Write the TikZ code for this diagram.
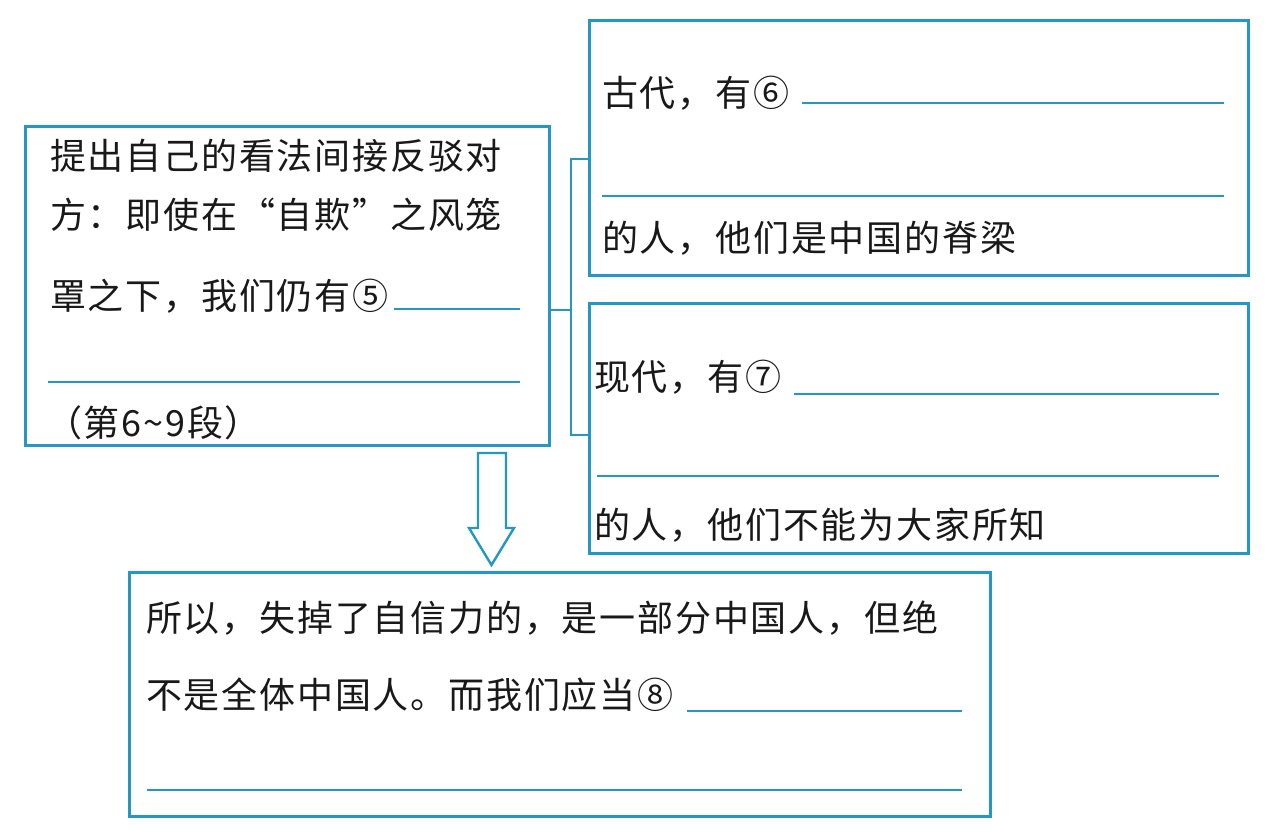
\documentclass[tikz,border=0pt]{standalone}
\usepackage{fontspec}
\newfontfamily\cjk{Noto Sans CJK SC}[LetterSpace=5]
\definecolor{lineblue}{RGB}{35,152,196}
\tikzset{
  box/.style={draw=lineblue, line width=2.6pt, rectangle, inner sep=0pt, anchor=north west},
  blank/.style={draw=lineblue, line width=2.4pt},
  conn/.style={draw=lineblue, line width=2.6pt},
  txt/.style={inner sep=0pt, anchor=base west, font=\cjk\fontsize{36}{40}\selectfont, text=black!90},
}
\begin{document}
\begin{tikzpicture}[x=1pt,y=-1pt]
\useasboundingbox (0,0) rectangle (1270,839);
\fill[white] (0,0) rectangle (1270,839);
% boxes
\node[box, minimum width=524pt, minimum height=319pt] (L) at (24,125) {};
\node[box, minimum width=659pt, minimum height=255pt] (A) at (588,19) {};
\node[box, minimum width=659pt, minimum height=250pt] (B) at (588,302) {};
\node[box, minimum width=861pt, minimum height=244pt] (C) at (128,571) {};
% left box text
\node[txt] (t1) at (50,169) {提出自己的看法间接反驳对};
\node[txt] (t2) at (50,228) {方：即使在“自欺”之风笼};
\node[txt] (t3) at (50,309) {罩之下，我们仍有⑤};
\draw[blank] (394,309) -- (520,309);
\draw[blank] (48,382) -- (520,382);
\node[txt] (t4) at (46,436) {（第6\char"007E 9段）};
% top right box
\node[txt] (t5) at (602,106) {古代，有⑥};
\draw[blank] (802,103) -- (1224,103);
\draw[blank] (602,196) -- (1224,196);
\node[txt] (t6) at (602,251) {的人，他们是中国的脊梁};
% second right box
\node[txt] (t7) at (594,390) {现代，有⑦};
\draw[blank] (794,394) -- (1219,394);
\draw[blank] (597,476) -- (1219,476);
\node[txt] (t8) at (594,538) {的人，他们不能为大家所知};
% bottom box
\node[txt] (t9) at (146,631) {所以，失掉了自信力的，是一部分中国人，但绝};
\node[txt] (t10) at (146,708) {不是全体中国人。而我们应当⑧};
\draw[blank] (687,711) -- (962,711);
\draw[blank] (147,790) -- (962,790);
% bracket
\coordinate (br) at (571,310);
\coordinate (bt) at (571,159);
\coordinate (bb) at (571,435);
\draw[conn] (L.east |- br) -- (br);
\draw[conn, line join=miter] (A.west |- bt) -- (bt) -- (bb) -- (B.west |- bb);
% hollow arrow
\draw[conn, line width=2.4pt, line join=miter, fill=white]
  (478,453) -- (506,453) -- (506,528) -- (514,528) -- (491.5,565) -- (469,528) -- (478,528) -- cycle;
\end{tikzpicture}
\end{document}
